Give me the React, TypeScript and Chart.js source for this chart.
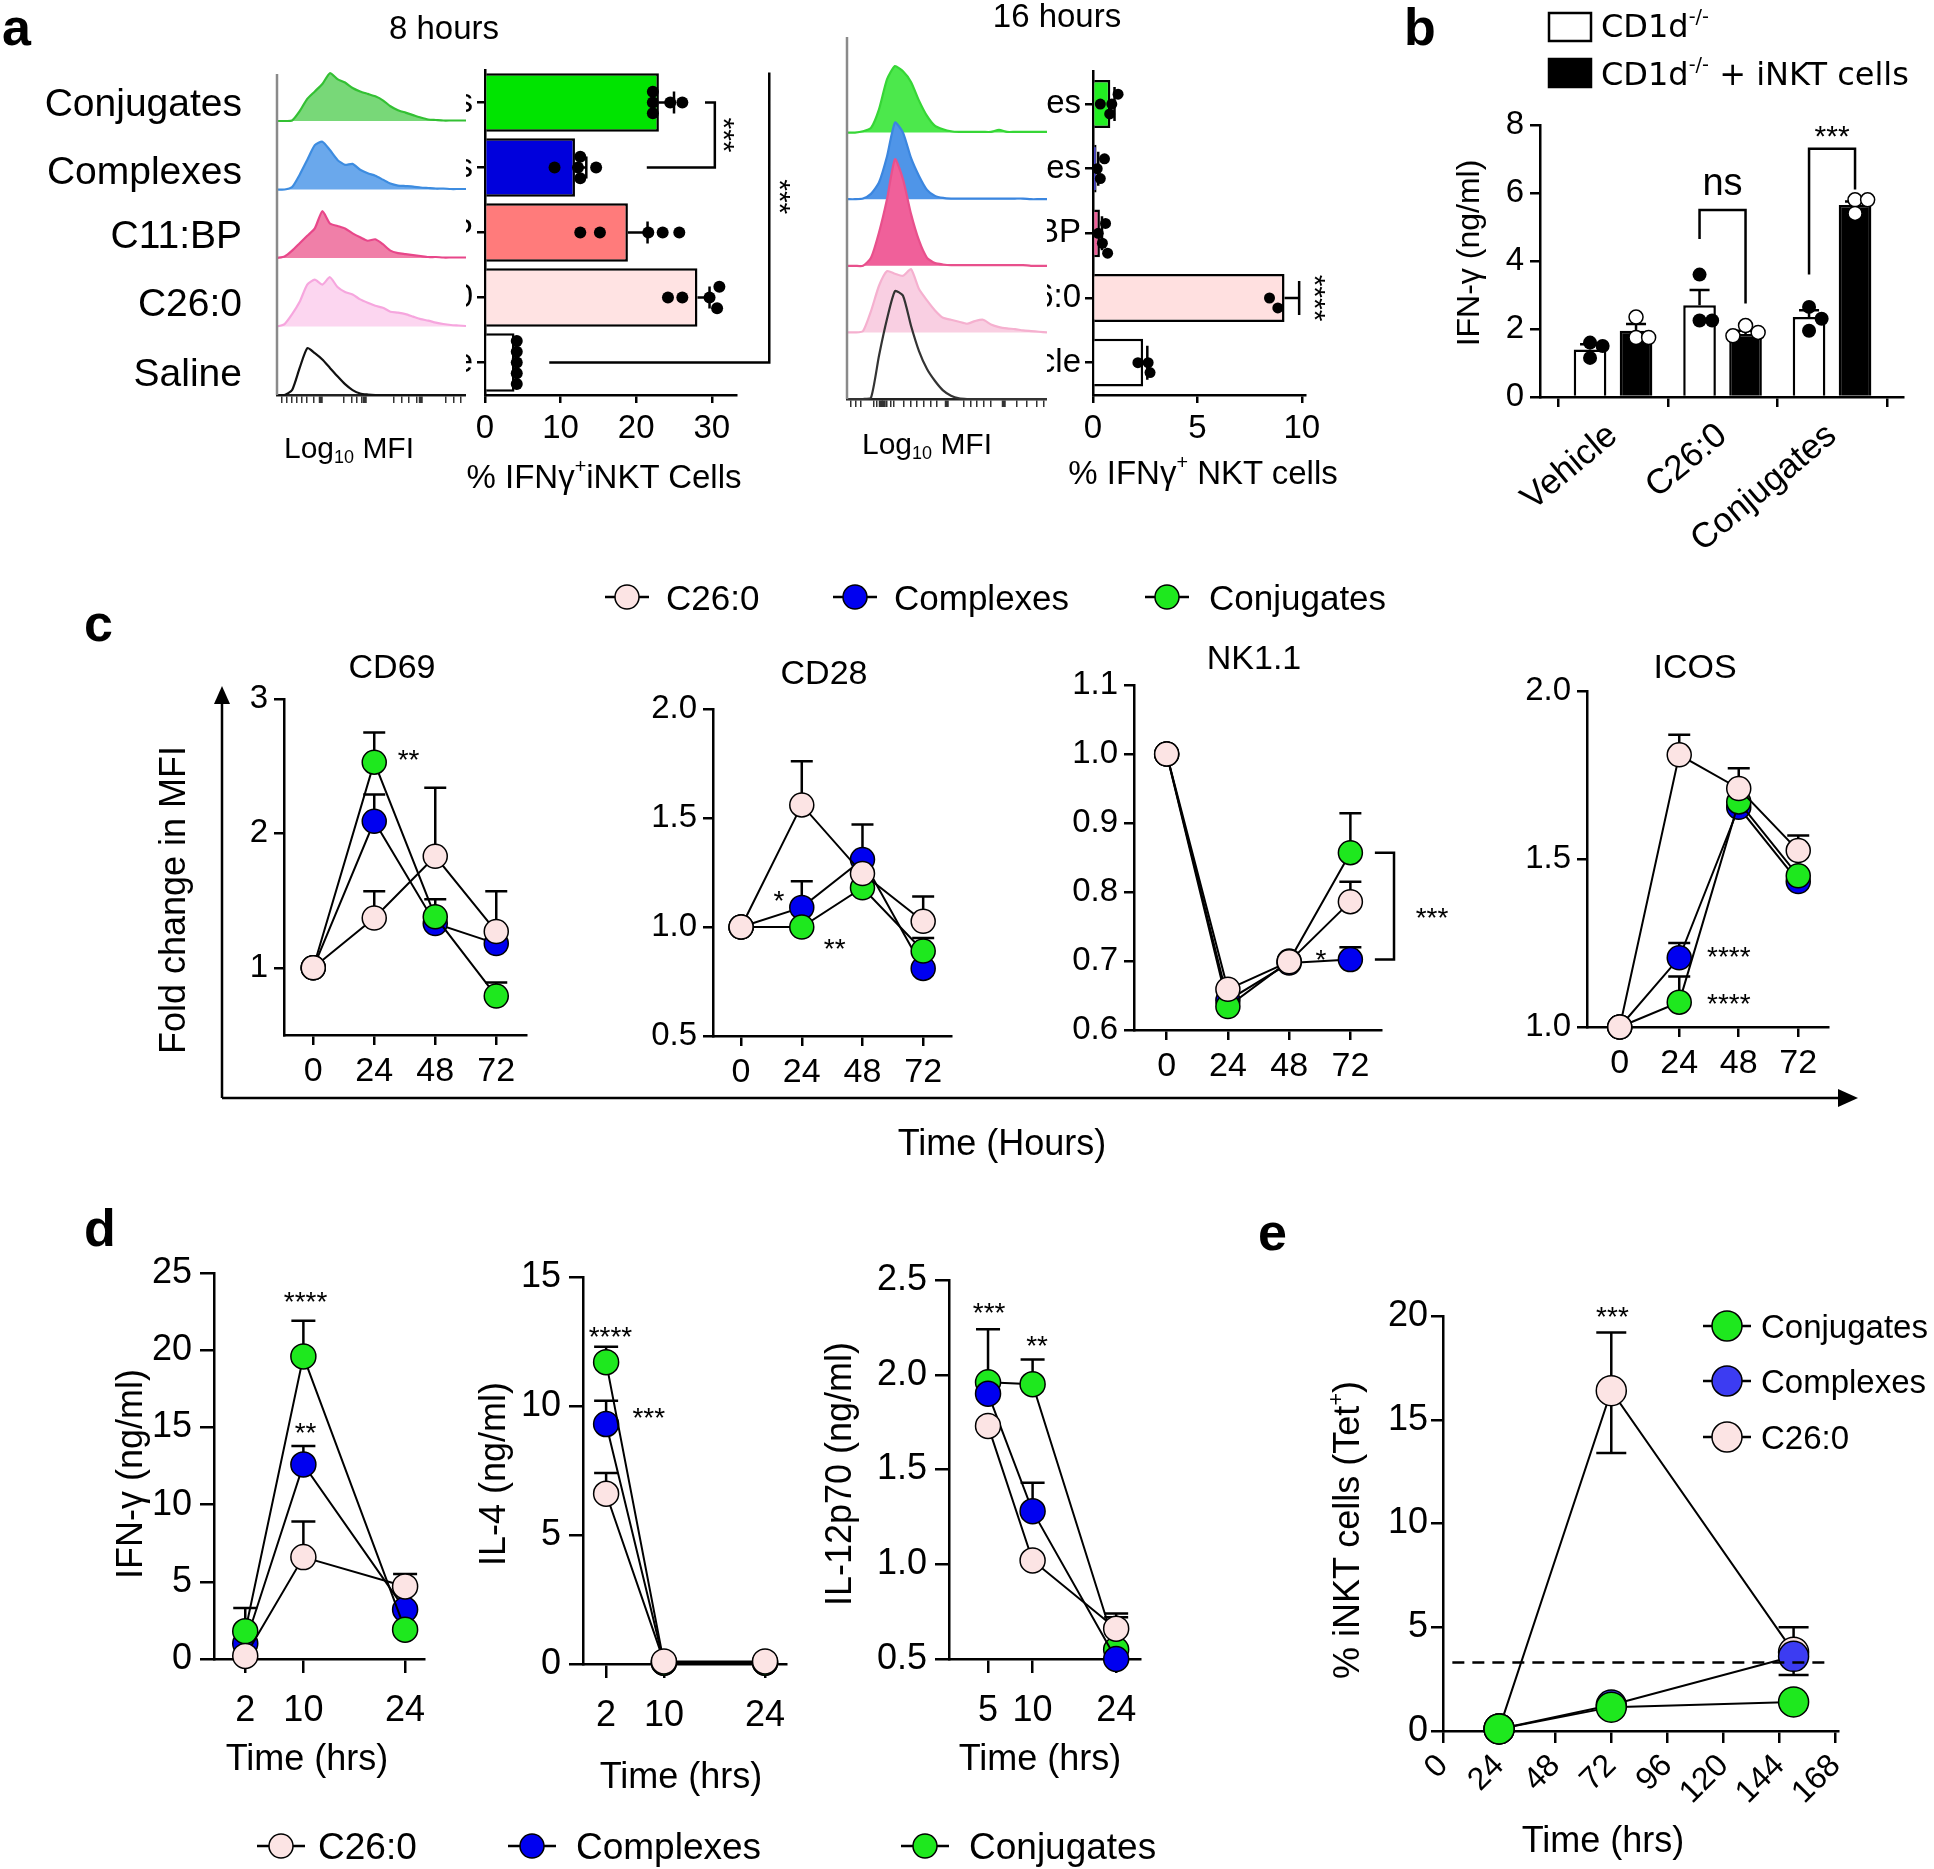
import React, { useEffect, useRef } from 'react';
import { Chart, LinearScale, registerables } from 'chart.js';

Chart.register(...registerables);

// Square-root axis (used for the IL-12p70 time axis, whose ticks are sqrt-spaced in the source figure)
class SqrtScale extends LinearScale {
  static id = 'sqrt';
  static defaults = {};
  getPixelForValue(value: number) {
    const a = Math.sqrt(Math.max((this as any).min, 0));
    const b = Math.sqrt(Math.max((this as any).max, 0));
    return (this as any).getPixelForDecimal((Math.sqrt(Math.max(value, 0)) - a) / (b - a));
  }
  getValueForPixel(pixel: number) {
    const a = Math.sqrt(Math.max((this as any).min, 0));
    const b = Math.sqrt(Math.max((this as any).max, 0));
    const s = a + (this as any).getDecimalForPixel(pixel) * (b - a);
    return s * s;
  }
}
Chart.register(SqrtScale as any);

const FONT = "'Liberation Sans', Arial, Helvetica, sans-serif";
Chart.defaults.font.family = FONT;
Chart.defaults.color = '#000';

// ======================= DATA =======================
// Panel a — 8 hours, % IFNγ+ iNKT cells
const a8Categories = ['Conjugates', 'Complexes', 'C11:BP', 'C26:0', 'Saline'];
const a8Means = [23.0, 11.9, 18.9, 28.1, 3.9];
const a8Sem = [2.0, 1.5, 2.6, 1.6, 0.3];
const a8Dots = [
  [22.2, 22.2, 22.2, 24.5, 26.1],
  [9.2, 12.3, 12.6, 12.6, 14.7],
  [12.6, 15.2, 21.6, 23.5, 25.7],
  [24.2, 26.1, 29.7, 30.7, 31.0],
  [4.2, 4.2, 4.2, 4.2, 4.2],
];
const a8Ticks = [0, 10, 20, 30];

// Panel a — 16 hours, % IFNγ+ NKT cells
const a16Categories = ['Conjugates', 'Complexes', 'C11:BP', 'C26:0', 'Vehicle'];
const a16Means = [0.83, 0.17, 0.33, 9.17, 2.4];
const a16Sem = [0.2, 0.08, 0.1, 0.7, 0.2];
const a16Dots = [
  [0.35, 0.8, 0.9, 1.2],
  [0.2, 0.35, 0.55],
  [0.25, 0.45, 0.6, 0.7],
  [8.45, 8.85],
  [2.15, 2.64, 2.73],
];
const a16Ticks = [0, 5, 10];

// Flow histograms (channel bins, relative counts)
const histChannels = [0, 4, 8, 12, 16, 20, 24, 28, 32, 36, 40, 44, 48, 52, 56, 60, 64, 68, 72, 76, 80, 84, 88, 92, 96, 100];
const h8Conj = [0, 0, 0.01, 0.2, 0.45, 0.6, 0.75, 0.97, 0.85, 0.78, 0.67, 0.6, 0.55, 0.5, 0.42, 0.3, 0.22, 0.17, 0.12, 0.07, 0.03, 0.02, 0.01, 0.01, 0.01, 0.01];
const h8Cplx = [0, 0, 0.05, 0.3, 0.6, 0.9, 0.97, 0.8, 0.6, 0.5, 0.52, 0.4, 0.33, 0.28, 0.2, 0.12, 0.08, 0.07, 0.06, 0.04, 0.03, 0.02, 0.02, 0.01, 0.01, 0.01];
const h8C11 = [0, 0.03, 0.15, 0.3, 0.45, 0.6, 0.95, 0.7, 0.65, 0.6, 0.5, 0.42, 0.35, 0.38, 0.28, 0.15, 0.1, 0.08, 0.06, 0.04, 0.02, 0.02, 0.01, 0.01, 0.01, 0.01];
const h8C26 = [0, 0.05, 0.25, 0.5, 0.85, 0.95, 0.85, 1.0, 0.8, 0.7, 0.65, 0.55, 0.48, 0.42, 0.38, 0.3, 0.28, 0.25, 0.2, 0.15, 0.12, 0.08, 0.05, 0.03, 0.02, 0.01];
const h8Saline = [0, 0, 0.1, 0.55, 0.95, 0.85, 0.72, 0.55, 0.38, 0.22, 0.1, 0.03, 0.01, 0, 0, 0, 0, 0, 0, 0, 0, 0, 0, 0, 0, 0];
const h16Conj = [0, 0, 0.02, 0.07, 0.35, 0.8, 1.0, 0.92, 0.76, 0.48, 0.25, 0.1, 0.05, 0.02, 0.01, 0.01, 0.01, 0.01, 0.01, 0.04, 0.01, 0.01, 0.01, 0.01, 0.01, 0.01];
const h16Cplx = [0, 0, 0.01, 0.08, 0.25, 0.64, 1.15, 1.0, 0.62, 0.35, 0.14, 0.05, 0.02, 0.01, 0.01, 0.01, 0.01, 0.01, 0.01, 0.01, 0.01, 0.01, 0.01, 0, 0, 0];
const h16C11 = [0, 0, 0, 0.12, 0.5, 1.0, 1.6, 1.3, 0.78, 0.38, 0.12, 0.04, 0.02, 0.01, 0.01, 0.01, 0.01, 0.01, 0.01, 0.01, 0.01, 0.01, 0.01, 0, 0, 0];
const h16C26 = [0, 0, 0.02, 0.32, 0.7, 0.92, 0.88, 0.85, 0.95, 0.65, 0.48, 0.33, 0.22, 0.19, 0.16, 0.13, 0.17, 0.19, 0.12, 0.08, 0.06, 0.05, 0.03, 0.02, 0.01, 0];
const h16Veh = [0, 0, 0, 0.02, 0.65, 1.2, 1.62, 1.55, 1.1, 0.72, 0.45, 0.27, 0.13, 0.05, 0.01, 0, 0, 0, 0, 0, 0, 0, 0, 0, 0, 0];
const h8AxisTicks = [2.6, 5.3, 7.9, 10.5, 13.2, 15.8, 19.7, 22.9, 35.5, 39.5, 42.1, 44.7, 46.6, 61.8, 65.8, 69.7, 73.7, 76.3, 89.5, 93.4, 97.4];
const h8AxisMajor = [22.9, 46.6, 76.3];
const h16AxisTicks = [1.7, 4.2, 6.7, 13.3, 15, 16.7, 18.3, 20, 21.7, 23.3, 28.3, 31.7, 35, 38.3, 41.7, 45, 50, 58.3, 61.7, 65, 68.3, 71.7, 78.3, 85, 90, 95, 98.3];
const h16AxisMajor = [16.7, 18.3, 50, 78.3];

// Panel b — IFN-γ (ng/ml)
const bCategories = ['Vehicle', 'C26:0', 'Conjugates'];
const bCD1d = [1.4, 2.7, 2.35];
const bCD1dErr = [0.15, 0.45, 0.2];
const bCD1dDots = [[1.15, 1.6, 1.5], [3.6, 2.25, 2.25], [2.65, 2.3, 1.95]];
const bCD1dNKT = [1.95, 1.85, 5.65];
const bCD1dNKTErr = [0.2, 0.1, 0.1];
const bCD1dNKTDots = [[2.35, 1.75, 1.75], [2.1, 1.9, 1.8], [5.8, 5.8, 5.4]];
const bTicks = [0, 2, 4, 6, 8];

// Panel c — fold change in MFI
const cTimes = [0, 24, 48, 72];
const cTicksX = [0, 24, 48, 72];
const cd69C26 = [1, 1.37, 1.83, 1.27];
const cd69C26Err = [null, 1.57, 2.34, 1.57];
const cd69Cplx = [1, 2.09, 1.33, 1.18];
const cd69CplxErr = [null, 2.29, null, null];
const cd69Conj = [1, 2.53, 1.38, 0.79];
const cd69ConjErr = [null, 2.75, 1.51, 0.89];
const cd69Ticks = [1, 2, 3];

const cd28C26 = [1, 1.56, 1.245, 1.026];
const cd28C26Err = [null, 1.76, null, 1.14];
const cd28Cplx = [1, 1.09, 1.31, 0.81];
const cd28CplxErr = [null, 1.21, 1.47, null];
const cd28Conj = [1, 1.0, 1.18, 0.89];
const cd28ConjErr = [null, null, null, 0.95];
const cd28Ticks = [0.5, 1.0, 1.5, 2.0];

const nk11C26 = [1.0, 0.659, 0.699, 0.786];
const nk11C26Err = [null, null, null, 0.815];
const nk11Cplx = [1.0, 0.643, 0.697, 0.702];
const nk11CplxErr = [null, null, null, 0.72];
const nk11Conj = [1.0, 0.634, 0.7, 0.857];
const nk11ConjErr = [null, null, null, 0.914];
const nk11Ticks = [0.6, 0.7, 0.8, 0.9, 1.0, 1.1];

const icosC26 = [1.0, 1.81, 1.71, 1.525];
const icosC26Err = [null, 1.87, 1.77, 1.57];
const icosCplx = [1.0, 1.206, 1.654, 1.433];
const icosCplxErr = [null, 1.25, null, null];
const icosConj = [1.0, 1.074, 1.67, 1.45];
const icosConjErr = [null, 1.15, null, null];
const icosTicks = [1.0, 1.5, 2.0];

// Panel d — cytokines
const ifnTimes = [2, 10, 24];
const ifnC26 = [0.2, 6.6, 4.7];
const ifnC26Err = [null, 8.9, 5.5];
const ifnCplx = [1.0, 12.6, 3.2];
const ifnCplxErr = [null, 13.8, null];
const ifnConj = [1.8, 19.6, 1.9];
const ifnConjErr = [3.3, 21.9, null];
const ifnTicksY = [0, 5, 10, 15, 20, 25];
const ifnTicksX = [2, 10, 24];

const il4Times = [2, 10, 24];
const il4C26 = [6.6, 0.1, 0.1];
const il4C26Err = [7.4, null, null];
const il4Cplx = [9.3, 0.05, 0.05];
const il4CplxErr = [10.2, null, null];
const il4Conj = [11.7, 0.05, 0.05];
const il4ConjErr = [12.3, null, null];
const il4TicksY = [0, 5, 10, 15];
const il4TicksX = [2, 10, 24];

const il12Times = [5, 10, 24];
const il12C26 = [1.73, 1.02, 0.66];
const il12C26Err = [null, null, 0.74];
const il12Cplx = [1.9, 1.28, 0.5];
const il12CplxErr = [null, 1.43, null];
const il12Conj = [1.96, 1.95, 0.55];
const il12ConjErr = [2.24, 2.08, 0.72];
const il12TicksY = [0.5, 1.0, 1.5, 2.0, 2.5];
const il12TicksX = [5, 10, 24];

// Panel e — % iNKT cells (Tet+)
const eTimes = [24, 72, 150];
const eConj = [0.1, 1.15, 1.4];
const eCplx = [0.1, 1.25, 3.6];
const eC26 = [0.1, 16.4, 3.8];
const eC26ErrHi = [null, 19.2, 5.0];
const eC26ErrLo = [null, 13.4, 2.7];
const eBaseline = 3.3;
const eTicksY = [0, 5, 10, 15, 20];
const eTicksX = [0, 24, 48, 72, 96, 120, 144, 168];

// ======================= STYLES =======================
const GREEN = '#1ee81e';
const BLUE = '#0000f0';
const PINK = '#fce4e4';
const E_BLUE = '#3c3cf2';

type Rect = { l: number; t: number; w: number; h: number };
type Area = { x0: number; y0: number; x1: number; y1: number };

function frame(c: Rect, a: Area) {
  return {
    padding: { top: a.y0 - c.t, right: c.l + c.w - a.x1, left: 0, bottom: 0 },
    yW: a.x0 - c.l,
    xH: c.t + c.h - a.y1,
  };
}

interface AxisSpec {
  min: number; max: number; ticks: number[]; size: number; type?: string;
  fmt?: (v: number) => string; tickLen?: number; pad?: number; rot?: number;
}

const fmt1 = (v: number) => v.toFixed(1);

function prismAxis(pos: 'left' | 'bottom', a: AxisSpec, fix: number) {
  return {
    type: a.type || 'linear', position: pos, min: a.min, max: a.max,
    afterBuildTicks: (s: any) => { s.ticks = a.ticks.map((v) => ({ value: v })); },
    afterFit: (s: any) => { if (pos === 'left') s.width = fix; else s.height = fix; },
    grid: { display: true, drawOnChartArea: false, drawTicks: true, tickLength: a.tickLen ?? 10, color: '#000', lineWidth: 2.5 },
    border: { display: true, color: '#000', width: 2.5 },
    ticks: {
      font: { size: a.size }, color: '#000', padding: a.pad ?? 6, autoSkip: false,
      maxRotation: a.rot ?? 0, minRotation: a.rot ?? 0,
      callback: (v: any) => (a.fmt ? a.fmt(Number(v)) : String(v)),
    },
  };
}

function ctxText(ctx: CanvasRenderingContext2D, text: string, x: number, y: number, size: number, rot = 0, align: CanvasTextAlign = 'center') {
  ctx.save();
  ctx.translate(x, y);
  ctx.rotate(rot);
  ctx.font = `${size}px ${FONT}`;
  ctx.fillStyle = '#000';
  ctx.textAlign = align;
  if (/^\*+$/.test(text)) {
    ctx.textBaseline = 'alphabetic';
    ctx.fillText(text, 0, size * 0.57);
  } else {
    ctx.textBaseline = 'middle';
    ctx.fillText(text, 0, 0);
  }
  ctx.restore();
}

function swarmOffsets(px: number[], r: number): number[] {
  const order = px.map((_, i) => i).sort((a, b) => px[a] - px[b]);
  const placed: [number, number][] = [];
  const out = new Array(px.length).fill(0);
  const step = r * 1.8;
  for (const i of order) {
    for (let k = 0; k < 30; k++) {
      const o = k === 0 ? 0 : (k % 2 ? 1 : -1) * Math.ceil(k / 2) * step;
      if (placed.every(([p, q]) => Math.hypot(p - px[i], q - o) >= step * 0.98)) {
        out[i] = o; placed.push([px[i], o]); break;
      }
    }
  }
  return out;
}

const baseOpts = { responsive: false, animation: false, devicePixelRatio: 1, events: [] as any[] };
const noPlugins = { legend: { display: false }, tooltip: { enabled: false } };

// ---------------- line (c, d, e) ----------------
interface Series { xs: number[]; ys: number[]; hi?: (number | null)[]; lo?: (number | null)[]; fill: string }
interface Note { x: number; y: number; text: string; size: number; align?: CanvasTextAlign }
interface LineSpec {
  canvas: Rect; area: Area; x: AxisSpec; y: AxisSpec; series: Series[]; r: number; cap: number;
  notes?: Note[]; extra?: (chart: any, ctx: CanvasRenderingContext2D) => void;
}

function lineConfig(s: LineSpec) {
  const f = frame(s.canvas, s.area);
  return {
    type: 'line',
    data: {
      datasets: s.series.map((se) => ({
        data: se.xs.map((x, i) => ({ x, y: se.ys[i] })),
        borderColor: '#000', borderWidth: 2, fill: false, tension: 0, clip: false,
        pointRadius: s.r, pointHoverRadius: s.r, pointBackgroundColor: se.fill,
        pointBorderColor: '#000', pointBorderWidth: 1.5,
      })),
    },
    options: {
      ...baseOpts,
      layout: { padding: f.padding },
      plugins: noPlugins,
      scales: { x: prismAxis('bottom', s.x, f.xH), y: prismAxis('left', s.y, f.yW) },
    },
    plugins: [{
      id: 'errs',
      beforeDatasetsDraw(chart: any) {
        const ctx = chart.ctx; const X = chart.scales.x; const Y = chart.scales.y;
        ctx.save(); ctx.strokeStyle = '#000'; ctx.lineWidth = 2.5;
        s.series.forEach((se) => {
          se.xs.forEach((xv, i) => {
            const px = X.getPixelForValue(xv); const py = Y.getPixelForValue(se.ys[i]);
            [se.hi, se.lo].forEach((arr) => {
              if (!arr || arr[i] == null) return;
              const pe = Y.getPixelForValue(arr[i] as number);
              ctx.beginPath(); ctx.moveTo(px, py); ctx.lineTo(px, pe);
              ctx.moveTo(px - s.cap / 2, pe); ctx.lineTo(px + s.cap / 2, pe); ctx.stroke();
            });
          });
        });
        ctx.restore();
      },
      afterDatasetsDraw(chart: any) {
        const ctx = chart.ctx; const X = chart.scales.x; const Y = chart.scales.y;
        (s.notes || []).forEach((n) => ctxText(ctx, n.text, X.getPixelForValue(n.x), Y.getPixelForValue(n.y), n.size, 0, n.align || 'center'));
        if (s.extra) s.extra(chart, ctx);
      },
    }],
  };
}

// ---------------- horizontal bars (a) ----------------
interface HBarSpec {
  canvas: Rect; area: Area; cats: string[]; means: number[]; sem: number[]; dots: number[][]; colors: string[];
  xAxis: AxisSpec; barPct: number; dotR: number; capH: number; catSize: number;
  extra?: (chart: any, ctx: CanvasRenderingContext2D) => void;
}
function hbarConfig(s: HBarSpec) {
  const f = frame(s.canvas, s.area);
  return {
    type: 'bar',
    data: {
      labels: s.cats,
      datasets: [{ data: s.means, backgroundColor: s.colors, borderColor: '#000', borderWidth: 2.5, barPercentage: s.barPct, categoryPercentage: 1 }],
    },
    options: {
      ...baseOpts, indexAxis: 'y',
      layout: { padding: f.padding },
      plugins: noPlugins,
      scales: {
        x: prismAxis('bottom', s.xAxis, f.xH),
        y: {
          type: 'category', position: 'left', offset: true,
          afterFit: (sc: any) => { sc.width = f.yW; },
          grid: { display: true, offset: false, drawOnChartArea: false, drawTicks: true, tickLength: 8, color: '#000', lineWidth: 2.5 },
          border: { display: true, color: '#000', width: 2.5 },
          ticks: { font: { size: s.catSize }, color: '#000', padding: 4, autoSkip: false },
        },
      },
    },
    plugins: [{
      id: 'hbarExtras',
      afterDatasetsDraw(chart: any) {
        const ctx = chart.ctx; const X = chart.scales.x; const Y = chart.scales.y;
        ctx.save(); ctx.strokeStyle = '#000'; ctx.lineWidth = 2.5;
        s.means.forEach((m, i) => {
          const y = Y.getPixelForValue(i);
          const x0 = X.getPixelForValue(m); const x1 = X.getPixelForValue(m + s.sem[i]);
          ctx.beginPath(); ctx.moveTo(x0, y); ctx.lineTo(x1, y);
          ctx.moveTo(x1, y - s.capH / 2); ctx.lineTo(x1, y + s.capH / 2); ctx.stroke();
          const px = s.dots[i].map((v) => X.getPixelForValue(v));
          const off = swarmOffsets(px, s.dotR);
          ctx.fillStyle = '#000';
          px.forEach((p, k) => { ctx.beginPath(); ctx.arc(p, y + off[k], s.dotR, 0, Math.PI * 2); ctx.fill(); });
        });
        ctx.restore();
        if (s.extra) s.extra(chart, ctx);
      },
    }],
  };
}

// ---------------- histograms (a) ----------------
interface HistRow { vals: number[]; line: string; fill: string | null }
function histConfig(canvas: Rect, area: Area, rows: HistRow[], ymax: number, ticks: number[], majors: number[], axisTop: number) {
  const f = frame(canvas, area);
  const scales: any = {
    x: {
      type: 'linear', position: 'bottom', min: 0, max: 100,
      afterBuildTicks: (s: any) => { s.ticks = ticks.map((v) => ({ value: v })); },
      afterFit: (s: any) => { s.height = f.xH; },
      grid: { display: true, drawOnChartArea: false, drawTicks: true, tickLength: 8, color: '#333', lineWidth: 1.5,
        tickWidth: (c: any) => (c.tick && majors.includes(c.tick.value) ? 4 : 1.5) },
      border: { display: true, color: '#222', width: 2.5 },
      ticks: { display: false },
    },
  };
  rows.forEach((_, i) => {
    scales['h' + i] = {
      type: 'linear', position: 'left', stack: 'rows', stackWeight: 1, weight: rows.length - i,
      min: 0, max: ymax, grid: { display: false }, border: { display: false }, ticks: { display: false },
      afterFit: (s: any) => { s.width = f.yW; },
    };
  });
  const datasets = rows.map((r, i) => ({
    data: histChannels.map((c, k) => ({ x: c, y: r.vals[k] })),
    yAxisID: 'h' + i, borderColor: r.line, borderWidth: 2.2,
    backgroundColor: r.fill || 'rgba(0,0,0,0)', fill: r.fill ? 'origin' : false,
    pointRadius: 0, tension: 0.2, clip: false,
  })).reverse();
  return {
    type: 'line',
    data: { datasets },
    options: { ...baseOpts, layout: { padding: f.padding }, plugins: noPlugins, scales },
    plugins: [{
      id: 'histBg',
      beforeDraw(chart: any) {
        const ctx = chart.ctx; ctx.save(); ctx.fillStyle = '#fff'; ctx.fillRect(0, 0, chart.width, chart.height); ctx.restore();
      },
      afterDraw(chart: any) {
        const ctx = chart.ctx; const a = chart.chartArea;
        ctx.save(); ctx.strokeStyle = '#8a8a8a'; ctx.lineWidth = 2.5;
        ctx.beginPath(); ctx.moveTo(a.left, axisTop - canvas.t); ctx.lineTo(a.left, a.bottom); ctx.stroke(); ctx.restore();
      },
    }],
  };
}

// ======================= LAYOUT =======================
const A8_BAR: Rect = { l: 380, t: 30, w: 430, h: 425 };
const A8_HIST: Rect = { l: 270, t: 40, w: 196, h: 370 };
const A16_BAR: Rect = { l: 960, t: 40, w: 390, h: 415 };
const A16_HIST: Rect = { l: 840, t: 20, w: 207, h: 392 };
const B_BOX: Rect = { l: 1430, t: 95, w: 504, h: 475 };
const CD69_BOX: Rect = { l: 225, t: 665, w: 340, h: 425 };
const CD28_BOX: Rect = { l: 620, t: 675, w: 370, h: 415 };
const NK_BOX: Rect = { l: 1030, t: 650, w: 480, h: 440 };
const ICOS_BOX: Rect = { l: 1490, t: 655, w: 440, h: 435 };
const IFN_BOX: Rect = { l: 140, t: 1240, w: 320, h: 500 };
const IL4_BOX: Rect = { l: 510, t: 1245, w: 310, h: 500 };
const IL12_BOX: Rect = { l: 860, t: 1240, w: 320, h: 500 };
const E_BOX: Rect = { l: 1360, t: 1270, w: 525, h: 545 };

function vStars(ctx: CanvasRenderingContext2D, text: string, x: number, y: number, size: number) {
  ctxText(ctx, text, x, y, size, Math.PI / 2, 'center');
}

const makeA8Bar = () => hbarConfig({
  canvas: A8_BAR, area: { x0: 485, y0: 70, x1: 736, y1: 395 },
  cats: a8Categories, means: a8Means, sem: a8Sem, dots: a8Dots,
  colors: ['#00e400', '#0000dc', '#ff7b7b', '#ffe3e3', '#ffffff'],
  xAxis: { min: 0, max: 33.2, ticks: a8Ticks, size: 33, tickLen: 8, pad: 6 },
  barPct: 0.9, dotR: 6, capH: 22, catSize: 33,
  extra: (chart, ctx) => {
    const X = chart.scales.x; const Y = chart.scales.y;
    ctx.save(); ctx.strokeStyle = '#000'; ctx.lineWidth = 2.5;
    ctx.beginPath();
    ctx.moveTo(X.getPixelForValue(29.1), Y.getPixelForValue(0));
    ctx.lineTo(X.getPixelForValue(30.4), Y.getPixelForValue(0));
    ctx.lineTo(X.getPixelForValue(30.4), Y.getPixelForValue(1));
    ctx.lineTo(X.getPixelForValue(21.4), Y.getPixelForValue(1));
    ctx.moveTo(X.getPixelForValue(37.6), Y.getPixelForValue(0) - 30);
    ctx.lineTo(X.getPixelForValue(37.6), Y.getPixelForValue(4));
    ctx.lineTo(X.getPixelForValue(8.5), Y.getPixelForValue(4));
    ctx.stroke(); ctx.restore();
    vStars(ctx, '***', X.getPixelForValue(32.6), (Y.getPixelForValue(0) + Y.getPixelForValue(1)) / 2, 30);
    vStars(ctx, '***', X.getPixelForValue(39.9), Y.getPixelForValue(1.45), 30);
  },
});

const makeA16Bar = () => hbarConfig({
  canvas: A16_BAR, area: { x0: 1093, y0: 71.7, x1: 1305, y1: 395 },
  cats: a16Categories, means: a16Means, sem: a16Sem, dots: a16Dots,
  colors: ['#22ee22', '#1a1aff', '#f0609a', '#ffe0e0', '#ffffff'],
  xAxis: { min: 0, max: 10.15, ticks: a16Ticks, size: 33, tickLen: 8, pad: 6 },
  barPct: 0.74, dotR: 5.5, capH: 34, catSize: 33,
  extra: (chart, ctx) => {
    const X = chart.scales.x; const Y = chart.scales.y;
    vStars(ctx, '****', X.getPixelForValue(10.95), Y.getPixelForValue(3), 30);
  },
});

const makeA8Hist = () => histConfig(A8_HIST, { x0: 277, y0: 52.5, x1: 466, y1: 395 }, [
  { vals: h8Conj, line: '#33c033', fill: '#78d878' },
  { vals: h8Cplx, line: '#3d8ce0', fill: '#6aa8ec' },
  { vals: h8C11, line: '#e8478a', fill: '#f07fa8' },
  { vals: h8C26, line: '#f6a6de', fill: '#fcd6f0' },
  { vals: h8Saline, line: '#111', fill: null },
], 1.39, h8AxisTicks, h8AxisMajor, 74);

const makeA16Hist = () => histConfig(A16_HIST, { x0: 847, y0: 66, x1: 1047, y1: 399 }, [
  { vals: h16Conj, line: '#36d636', fill: '#4ce84c' },
  { vals: h16Cplx, line: '#3b86df', fill: '#4f95e8' },
  { vals: h16C11, line: '#e8508c', fill: '#f0609a' },
  { vals: h16C26, line: '#f5b0cf', fill: '#f9cfe2' },
  { vals: h16Veh, line: '#333', fill: null },
], 1.0, h16AxisTicks, h16AxisMajor, 37);

const makeB = () => {
  const f = frame(B_BOX, { x0: 1540, y0: 125, x1: 1903, y1: 397 });
  const barCommon = { borderColor: '#000', borderWidth: 2.5, barPercentage: 0.71, categoryPercentage: 0.84 };
  return {
    type: 'bar',
    data: {
      datasets: [
        { data: bCD1d.map((v, i) => ({ x: i, y: v })), backgroundColor: '#fff', ...barCommon },
        { data: bCD1dNKT.map((v, i) => ({ x: i, y: v })), backgroundColor: '#000', ...barCommon },
      ],
    },
    options: {
      ...baseOpts, layout: { padding: f.padding }, plugins: noPlugins,
      scales: {
        x: {
          type: 'linear', position: 'bottom', min: -0.667, max: 2.648, offset: false,
          afterBuildTicks: (s: any) => { s.ticks = bCategories.map((_, i) => ({ value: i })); },
          afterFit: (s: any) => { s.height = f.xH; },
          grid: { display: true, drawOnChartArea: false, drawTicks: true, tickLength: 10, color: '#000', lineWidth: 2.5 },
          border: { display: true, color: '#000', width: 2.5 },
          ticks: { font: { size: 35 }, color: '#000', padding: 8, maxRotation: 40, minRotation: 40, autoSkip: false,
            callback: (v: any) => bCategories[Math.round(Number(v))] },
        },
        y: prismAxis('left', { min: 0, max: 8, ticks: bTicks, size: 33, tickLen: 10, pad: 6 }, f.yW),
      },
    },
    plugins: [{
      id: 'bExtras',
      afterDatasetsDraw(chart: any) {
        const ctx = chart.ctx; const Y = chart.scales.y;
        const groups = [
          { means: bCD1d, err: bCD1dErr, dots: bCD1dDots, dotFill: '#000' },
          { means: bCD1dNKT, err: bCD1dNKTErr, dots: bCD1dNKTDots, dotFill: '#fff' },
        ];
        ctx.save(); ctx.lineWidth = 2.5;
        groups.forEach((g, d) => {
          const meta = chart.getDatasetMeta(d);
          g.means.forEach((m, i) => {
            const x = meta.data[i].x;
            const y0 = Y.getPixelForValue(m); const y1 = Y.getPixelForValue(m + g.err[i]);
            ctx.strokeStyle = '#000';
            ctx.beginPath(); ctx.moveTo(x, y0); ctx.lineTo(x, y1); ctx.moveTo(x - 10, y1); ctx.lineTo(x + 10, y1); ctx.stroke();
            const py = g.dots[i].map((v) => Y.getPixelForValue(v));
            const off = swarmOffsets(py, 7);
            py.forEach((p, k) => {
              ctx.beginPath(); ctx.arc(x + off[k], p, 7, 0, Math.PI * 2);
              ctx.fillStyle = g.dotFill; ctx.fill();
              if (g.dotFill === '#fff') { ctx.lineWidth = 1.5; ctx.strokeStyle = '#000'; ctx.stroke(); ctx.lineWidth = 2.5; }
            });
          });
        });
        const m0 = chart.getDatasetMeta(0); const m1 = chart.getDatasetMeta(1);
        const bracket = (i: number, yl: number, yt: number, yr: number) => {
          const xl = m0.data[i].x; const xr = m1.data[i].x;
          ctx.strokeStyle = '#000'; ctx.lineWidth = 2.5;
          ctx.beginPath(); ctx.moveTo(xl, Y.getPixelForValue(yl)); ctx.lineTo(xl, Y.getPixelForValue(yt));
          ctx.lineTo(xr, Y.getPixelForValue(yt)); ctx.lineTo(xr, Y.getPixelForValue(yr)); ctx.stroke();
          return (xl + xr) / 2;
        };
        const cx1 = bracket(1, 4.65, 5.5, 2.75);
        ctxText(ctx, 'ns', cx1, Y.getPixelForValue(6.25), 38);
        const cx2 = bracket(2, 3.6, 7.3, 6.1);
        ctxText(ctx, '***', cx2, Y.getPixelForValue(7.9), 30);
        ctx.restore();
      },
    }],
  };
};

const cY = (ticks: number[], min: number, max: number, fmt?: (v: number) => string): AxisSpec => ({ min, max, ticks, size: 33, fmt, tickLen: 10, pad: 6 });
const cX = (min: number, max: number): AxisSpec => ({ min, max, ticks: cTicksX, size: 34, tickLen: 10, pad: 6 });

const cSeries = (c26: number[], c26e: any[], cplx: number[], cplxe: any[], conj: number[], conje: any[]): Series[] => [
  { xs: cTimes, ys: c26, hi: c26e, fill: PINK },
  { xs: cTimes, ys: conj, hi: conje, fill: GREEN },
  { xs: cTimes, ys: cplx, hi: cplxe, fill: BLUE },
];

const makeCD69 = () => lineConfig({
  canvas: CD69_BOX, area: { x0: 284, y0: 699, x1: 526, y1: 1035 },
  x: cX(-11.5, 83.7), y: cY(cd69Ticks, 0.5, 3),
  series: cSeries(cd69C26, cd69C26Err, cd69Cplx, cd69CplxErr, cd69Conj, cd69ConjErr),
  r: 12, cap: 22,
  notes: [{ x: 37.5, y: 2.6, text: '**', size: 28 }],
});
const makeCD28 = () => lineConfig({
  canvas: CD28_BOX, area: { x0: 713, y0: 709, x1: 951, y1: 1036 },
  x: cX(-11.1, 83), y: cY(cd28Ticks, 0.5, 2.0, fmt1),
  series: cSeries(cd28C26, cd28C26Err, cd28Cplx, cd28CplxErr, cd28Conj, cd28ConjErr),
  r: 12, cap: 22,
  notes: [{ x: 15, y: 1.15, text: '*', size: 28 }, { x: 37, y: 0.93, text: '**', size: 28 }],
});
const makeNK = () => lineConfig({
  canvas: NK_BOX, area: { x0: 1134, y0: 685, x1: 1381, y1: 1030 },
  x: cX(-12.8, 84), y: cY(nk11Ticks, 0.6, 1.1, fmt1),
  series: cSeries(nk11C26, nk11C26Err, nk11Cplx, nk11CplxErr, nk11Conj, nk11ConjErr),
  r: 12, cap: 22,
  notes: [{ x: 60.5, y: 0.712, text: '*', size: 28 }, { x: 104, y: 0.772, text: '***', size: 28 }],
  extra: (chart, ctx) => {
    const X = chart.scales.x; const Y = chart.scales.y;
    ctx.save(); ctx.strokeStyle = '#000'; ctx.lineWidth = 2.5; ctx.beginPath();
    ctx.moveTo(X.getPixelForValue(81.6), Y.getPixelForValue(0.857));
    ctx.lineTo(X.getPixelForValue(89.1), Y.getPixelForValue(0.857));
    ctx.lineTo(X.getPixelForValue(89.1), Y.getPixelForValue(0.702));
    ctx.lineTo(X.getPixelForValue(81.6), Y.getPixelForValue(0.702));
    ctx.stroke(); ctx.restore();
  },
});
const makeICOS = () => lineConfig({
  canvas: ICOS_BOX, area: { x0: 1587, y0: 691, x1: 1828, y1: 1027 },
  x: cX(-13.2, 84), y: cY(icosTicks, 1.0, 2.0, fmt1),
  series: cSeries(icosC26, icosC26Err, icosCplx, icosCplxErr, icosConj, icosConjErr),
  r: 12, cap: 22,
  notes: [{ x: 44, y: 1.228, text: '****', size: 28 }, { x: 44, y: 1.088, text: '****', size: 28 }],
});

const dY = (ticks: number[], min: number, max: number, fmt?: (v: number) => string): AxisSpec => ({ min, max, ticks, size: 36, fmt, tickLen: 14, pad: 8 });
const dX = (ticks: number[], min: number, max: number, type?: string): AxisSpec => ({ min, max, ticks, size: 36, tickLen: 14, pad: 16, type });

const makeIFN = () => lineConfig({
  canvas: IFN_BOX, area: { x0: 214, y0: 1273, x1: 424, y1: 1659 },
  x: dX(ifnTicksX, -2.3, 26.6), y: dY(ifnTicksY, 0, 25),
  series: [
    { xs: ifnTimes, ys: ifnC26, hi: ifnC26Err, fill: PINK },
    { xs: ifnTimes, ys: ifnConj, hi: ifnConjErr, fill: GREEN },
    { xs: ifnTimes, ys: ifnCplx, hi: ifnCplxErr, fill: BLUE },
  ],
  r: 12.5, cap: 24,
  notes: [{ x: 10.3, y: 23.6, text: '****', size: 28 }, { x: 10.3, y: 15.1, text: '**', size: 28 }],
});
const makeIL4 = () => lineConfig({
  canvas: IL4_BOX, area: { x0: 583, y0: 1277, x1: 786, y1: 1664 },
  x: dX(il4TicksX, -1.2, 26.9), y: dY(il4TicksY, 0, 15),
  series: [
    { xs: il4Times, ys: il4C26, hi: il4C26Err, fill: PINK },
    { xs: il4Times, ys: il4Conj, hi: il4ConjErr, fill: GREEN },
    { xs: il4Times, ys: il4Cplx, hi: il4CplxErr, fill: BLUE },
  ],
  r: 12.5, cap: 24,
  notes: [{ x: 2.6, y: 12.95, text: '****', size: 28 }, { x: 7.9, y: 9.8, text: '***', size: 28 }],
});
const makeIL12 = () => lineConfig({
  canvas: IL12_BOX, area: { x0: 949, y0: 1280, x1: 1140, y1: 1659 },
  x: dX(il12TicksX, 2.03, 29.1, 'sqrt'), y: dY(il12TicksY, 0.5, 2.5, fmt1),
  series: [
    { xs: il12Times, ys: il12C26, hi: il12C26Err, fill: PINK },
    { xs: il12Times, ys: il12Cplx, hi: il12CplxErr, fill: BLUE },
    { xs: il12Times, ys: il12Conj, hi: il12ConjErr, fill: GREEN },
  ],
  r: 12.5, cap: 24,
  notes: [{ x: 5.1, y: 2.36, text: '***', size: 28 }, { x: 10.6, y: 2.19, text: '**', size: 28 }],
});

const makeE = () => lineConfig({
  canvas: E_BOX, area: { x0: 1443, y0: 1316, x1: 1838, y1: 1731 },
  x: { min: 0, max: 169, ticks: eTicksX, size: 32, tickLen: 12, pad: 4, rot: 45 },
  y: { min: 0, max: 20, ticks: eTicksY, size: 36, tickLen: 12, pad: 3 },
  series: [
    { xs: eTimes, ys: eConj, fill: GREEN },
    { xs: eTimes, ys: eCplx, fill: E_BLUE },
    { xs: eTimes, ys: eC26, hi: eC26ErrHi, lo: eC26ErrLo, fill: PINK },
  ],
  r: 15, cap: 30,
  notes: [{ x: 72.5, y: 20.3, text: '***', size: 28 }],
  extra: (chart, ctx) => {
    const X = chart.scales.x; const Y = chart.scales.y;
    ctx.save(); ctx.strokeStyle = '#000'; ctx.lineWidth = 2.5; ctx.setLineDash([12, 8]);
    ctx.beginPath(); ctx.moveTo(X.getPixelForValue(4), Y.getPixelForValue(eBaseline));
    ctx.lineTo(X.getPixelForValue(166), Y.getPixelForValue(eBaseline)); ctx.stroke(); ctx.restore();
  },
});

// ======================= COMPONENTS =======================
function ChartCanvas({ rect, make }: { rect: Rect; make: () => any }) {
  const ref = useRef<HTMLCanvasElement>(null);
  useEffect(() => {
    const chart = new Chart(ref.current as HTMLCanvasElement, make());
    return () => chart.destroy();
  }, []);
  return (
    <canvas ref={ref} width={rect.w} height={rect.h}
      style={{ position: 'absolute', left: rect.l, top: rect.t, width: rect.w, height: rect.h }} />
  );
}

function Txt({ x, y, s, a = 'c', r = 0, b = false, f = FONT, children }: any) {
  const tx = a === 'l' ? '0' : a === 'r' ? '-100%' : '-50%';
  return (
    <div style={{ position: 'absolute', left: x, top: y, width: 0, height: 0, transform: `rotate(${r}deg)` }}>
      <div style={{ position: 'absolute', left: 0, top: 0, transform: `translate(${tx},-50%)`, fontSize: s, fontFamily: f,
        fontWeight: b ? 700 : 400, lineHeight: 1, whiteSpace: 'nowrap', color: '#000' }}>{children}</div>
    </div>
  );
}

function Marker({ x, y, r, fill, half }: { x: number; y: number; r: number; fill: string; half: number }) {
  return (
    <g>
      <line x1={x - half} y1={y} x2={x + half} y2={y} stroke="#000" strokeWidth={2.5} />
      <circle cx={x} cy={y} r={r} fill={fill} stroke="#000" strokeWidth={1.5} />
    </g>
  );
}

const sup = { fontSize: '0.6em', verticalAlign: '0.75em', lineHeight: 0 } as const;
const sub = { fontSize: '0.6em', verticalAlign: '-0.3em', lineHeight: 0 } as const;

export default function App() {
  return (
    <div style={{ position: 'absolute', left: 0, top: 0, width: 1934, height: 1869, background: '#fff', overflow: 'hidden' }}>
      <ChartCanvas rect={A8_BAR} make={makeA8Bar} />
      <ChartCanvas rect={A8_HIST} make={makeA8Hist} />
      <ChartCanvas rect={A16_BAR} make={makeA16Bar} />
      <ChartCanvas rect={A16_HIST} make={makeA16Hist} />
      <ChartCanvas rect={B_BOX} make={makeB} />
      <ChartCanvas rect={CD69_BOX} make={makeCD69} />
      <ChartCanvas rect={CD28_BOX} make={makeCD28} />
      <ChartCanvas rect={NK_BOX} make={makeNK} />
      <ChartCanvas rect={ICOS_BOX} make={makeICOS} />
      <ChartCanvas rect={IFN_BOX} make={makeIFN} />
      <ChartCanvas rect={IL4_BOX} make={makeIL4} />
      <ChartCanvas rect={IL12_BOX} make={makeIL12} />
      <ChartCanvas rect={E_BOX} make={makeE} />

      <svg width={1934} height={1869} style={{ position: 'absolute', left: 0, top: 0, pointerEvents: 'none' }}>
        <line x1={222} y1={1098} x2={222} y2={700} stroke="#000" strokeWidth={2.5} />
        <polygon points="222,686 214,704 230,704" fill="#000" />
        <line x1={222} y1={1098} x2={1842} y2={1098} stroke="#000" strokeWidth={2.5} />
        <polygon points="1858,1098 1838,1089 1838,1107" fill="#000" />
        <rect x={1549} y={13} width={42} height={28} fill="#fff" stroke="#000" strokeWidth={2.5} />
        <rect x={1549} y={59} width={42} height={28} fill="#000" stroke="#000" strokeWidth={2.5} />
        <Marker x={627} y={597} r={12} fill={PINK} half={22} />
        <Marker x={855} y={597} r={12} fill={BLUE} half={22} />
        <Marker x={1167} y={597} r={12} fill={GREEN} half={22} />
        <Marker x={281} y={1846} r={12} fill={PINK} half={24} />
        <Marker x={532} y={1846} r={12} fill={BLUE} half={24} />
        <Marker x={925} y={1846} r={12} fill={GREEN} half={24} />
        <Marker x={1727} y={1326} r={15} fill={GREEN} half={24} />
        <Marker x={1727} y={1381} r={15} fill={E_BLUE} half={24} />
        <Marker x={1727} y={1437} r={15} fill={PINK} half={24} />
      </svg>

      {/* panel a */}
      <Txt x={2} y={27} s={52} a="l" b>a</Txt>
      <Txt x={444} y={27} s={33}>8 hours</Txt>
      <Txt x={1057} y={15} s={33}>16 hours</Txt>
      <Txt x={242} y={102} s={39} a="r">Conjugates</Txt>
      <Txt x={242} y={170} s={39} a="r">Complexes</Txt>
      <Txt x={242} y={234} s={39} a="r">C11:BP</Txt>
      <Txt x={242} y={302} s={39} a="r">C26:0</Txt>
      <Txt x={242} y={372} s={39} a="r">Saline</Txt>
      <Txt x={349} y={448} s={30}>Log<span style={sub}>10</span> MFI</Txt>
      <Txt x={927} y={444} s={30}>Log<span style={sub}>10</span> MFI</Txt>
      <Txt x={604} y={476} s={33}>% IFNγ<span style={sup}>+</span>iNKT Cells</Txt>
      <Txt x={1203} y={472} s={33}>% IFNγ<span style={sup}>+</span> NKT cells</Txt>

      {/* panel b */}
      <Txt x={1404} y={27} s={52} a="l" b>b</Txt>
      <Txt x={1601} y={26} s={32} a="l" f="'DejaVu Sans', sans-serif">CD1d<span style={sup}>-/-</span></Txt>
      <Txt x={1601} y={74} s={32} a="l" f="'DejaVu Sans', sans-serif">CD1d<span style={sup}>-/-</span> + iNKT cells</Txt>
      <Txt x={1468} y={253} s={32} r={-90}>IFN-γ (ng/ml)</Txt>

      {/* panel c */}
      <Txt x={84} y={623} s={52} a="l" b>c</Txt>
      <Txt x={666} y={597} s={35} a="l">C26:0</Txt>
      <Txt x={894} y={597} s={35} a="l">Complexes</Txt>
      <Txt x={1209} y={597} s={35} a="l">Conjugates</Txt>
      <Txt x={392} y={666} s={34}>CD69</Txt>
      <Txt x={824} y={672} s={34}>CD28</Txt>
      <Txt x={1254} y={657} s={34}>NK1.1</Txt>
      <Txt x={1695} y={666} s={34}>ICOS</Txt>
      <Txt x={173} y={900} s={36} r={-90}>Fold change in MFI</Txt>
      <Txt x={1002} y={1143} s={36}>Time (Hours)</Txt>

      {/* panel d */}
      <Txt x={84} y={1228} s={52} a="l" b>d</Txt>
      <Txt x={130} y={1474} s={36} r={-90}>IFN-γ (ng/ml)</Txt>
      <Txt x={493} y={1474} s={36} r={-90}>IL-4 (ng/ml)</Txt>
      <Txt x={839} y={1474} s={36} r={-90}>IL-12p70 (ng/ml)</Txt>
      <Txt x={307} y={1758} s={36}>Time (hrs)</Txt>
      <Txt x={681} y={1776} s={36}>Time (hrs)</Txt>
      <Txt x={1040} y={1758} s={36}>Time (hrs)</Txt>
      <Txt x={318} y={1846} s={37} a="l">C26:0</Txt>
      <Txt x={576} y={1846} s={37} a="l">Complexes</Txt>
      <Txt x={969} y={1846} s={37} a="l">Conjugates</Txt>

      {/* panel e */}
      <Txt x={1258} y={1232} s={52} a="l" b>e</Txt>
      <Txt x={1347} y={1530} s={36} r={-90}>% iNKT cells (Tet<span style={sup}>+</span>)</Txt>
      <Txt x={1603} y={1840} s={36}>Time (hrs)</Txt>
      <Txt x={1761} y={1326} s={33} a="l">Conjugates</Txt>
      <Txt x={1761} y={1381} s={33} a="l">Complexes</Txt>
      <Txt x={1761} y={1437} s={33} a="l">C26:0</Txt>
    </div>
  );
}
